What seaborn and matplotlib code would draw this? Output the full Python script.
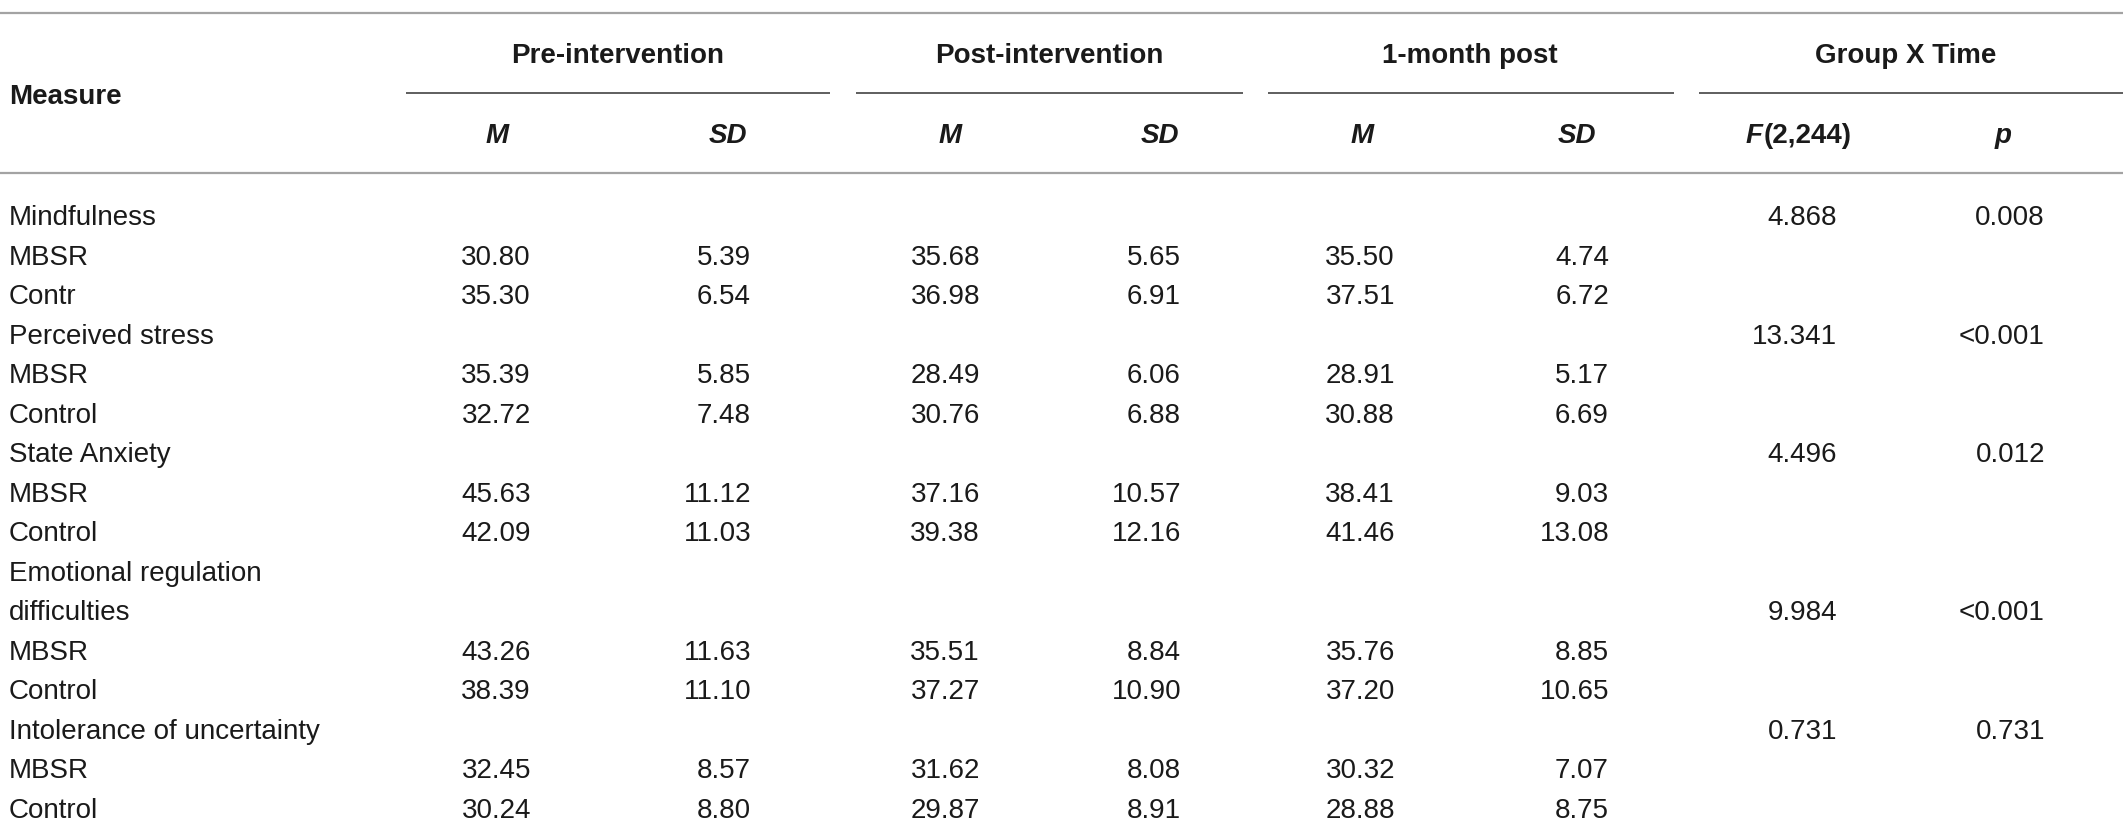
import matplotlib
matplotlib.use("Agg")
import matplotlib.pyplot as plt
import seaborn as sns

# table content
measures = ["Mindfulness", "Perceived stress", "State Anxiety",
            "Emotional regulation\ndifficulties", "Intolerance of uncertainty"]
groups = [["MBSR", "Contr"], ["MBSR", "Control"], ["MBSR", "Control"],
          ["MBSR", "Control"], ["MBSR", "Control"]]

pre_m = ["30.80", "35.30", "35.39", "32.72", "45.63", "42.09", "43.26", "38.39", "32.45", "30.24"]
pre_sd = ["5.39", "6.54", "5.85", "7.48", "11.12", "11.03", "11.63", "11.10", "8.57", "8.80"]
post_m = ["35.68", "36.98", "28.49", "30.76", "37.16", "39.38", "35.51", "37.27", "31.62", "29.87"]
post_sd = ["5.65", "6.91", "6.06", "6.88", "10.57", "12.16", "8.84", "10.90", "8.08", "8.91"]
month_m = ["35.50", "37.51", "28.91", "30.88", "38.41", "41.46", "35.76", "37.20", "30.32", "28.88"]
month_sd = ["4.74", "6.72", "5.17", "6.69", "9.03", "13.08", "8.85", "10.65", "7.07", "8.75"]
f_vals = ["4.868", "13.341", "4.496", "9.984", "0.731"]
p_vals = ["0.008", "<0.001", "0.012", "<0.001", "0.731"]

group_headers = ["Pre-intervention", "Post-intervention", "1-month post", "Group X Time"]
sub_headers = ["M", "SD", "M", "SD", "M", "SD", "F(2,244)", "p"]

# layout (pixel coordinates, y grows downward)
W, H = 2123, 831
col_right = [531, 751, 980, 1181, 1395, 1609, 1837, 2045]
sub_center = [497, 728, 950, 1160, 1362, 1577, 1798, 2003]
group_center = [618, 1049, 1470, 1906]
group_span = [(406, 830), (856, 1243), (1268, 1674), (1699, 2123)]
row0, row_step = 215, 39.53
text_col = "#1a1a1a"

sns.set_theme(style="white")
plt.rcParams["font.family"] = ["Liberation Sans", "DejaVu Sans"]

fig = plt.figure(figsize=(W / 100, H / 100), dpi=100)
ax = fig.add_axes([0, 0, 1, 1])
ax.set_xlim(0, W)
ax.set_ylim(H, 0)
ax.axis("off")
renderer = fig.canvas.get_renderer()

fs = 20
# rules
ax.hlines([13, 173], 0, W, color="#a3a3a3", lw=1.6)
for x0, x1 in group_span:
    ax.hlines(93, x0, x1, color="#333333", lw=1.1)

# header
ax.text(9, 104, "Measure", fontsize=fs, fontweight="bold", color=text_col)
for x, lab in zip(group_center, group_headers):
    ax.text(x, 63, lab, fontsize=fs, fontweight="bold", ha="center", color=text_col)
for x, lab in zip(sub_center, sub_headers):
    if lab.startswith("F"):
        # italic F followed by upright degrees of freedom, centred as one piece
        t1 = ax.text(0, 143, "F", fontsize=fs, fontweight="bold", style="italic", color=text_col)
        t2 = ax.text(0, 143, lab[1:], fontsize=fs, fontweight="bold", color=text_col)
        w1 = t1.get_window_extent(renderer).width
        w2 = t2.get_window_extent(renderer).width
        start = x - (w1 + w2) / 2
        t1.set_x(start)
        t2.set_x(start + w1 + 1)
    else:
        ax.text(x, 143, lab, fontsize=fs, fontweight="bold", style="italic",
                ha="center", color=text_col)

# body rows
row = 0
k = 0
for i, name in enumerate(measures):
    lines = name.split("\n")
    for j, line in enumerate(lines):
        yb = row0 + row * row_step + 10
        ax.text(9, yb, line, fontsize=fs, color=text_col)
        if j == len(lines) - 1:
            ax.text(col_right[6], yb, f_vals[i], fontsize=fs, ha="right", color=text_col)
            ax.text(col_right[7], yb, p_vals[i], fontsize=fs, ha="right", color=text_col)
        row += 1
    for g in groups[i]:
        yb = row0 + row * row_step + 10
        ax.text(9, yb, g, fontsize=fs, color=text_col)
        vals = [pre_m[k], pre_sd[k], post_m[k], post_sd[k], month_m[k], month_sd[k]]
        for x, v in zip(col_right, vals):
            ax.text(x, yb, v, fontsize=fs, ha="right", color=text_col)
        k += 1
        row += 1

fig.savefig("out.png", dpi=100)
